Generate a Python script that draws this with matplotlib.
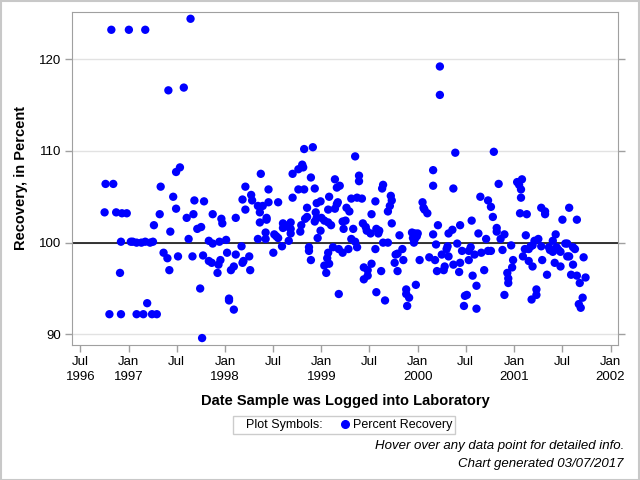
import numpy as np
import matplotlib
matplotlib.use("Agg")
import matplotlib.pyplot as plt
import matplotlib.dates as mdates
from matplotlib.lines import Line2D
from matplotlib.patches import Rectangle
from datetime import datetime

plt.rcParams['font.family'] = ['Liberation Sans', 'DejaVu Sans']

# 試料の記録日 (小数年) と回収率 (%)
log_year = [
    1996.82, 1997.00, 1997.17, 1997.64, 1997.41, 1997.57, 1997.53, 1997.49,
    1996.76, 1996.84, 1996.75, 1996.87, 1996.93, 1996.98, 1996.92, 1997.02,
    1997.04, 1997.08, 1997.13, 1997.17, 1997.22, 1997.25, 1996.91, 1996.80,
    1996.92, 1997.08, 1997.15, 1997.24, 1997.29, 1997.19, 1997.33, 1997.46,
    1997.49, 1997.32, 1997.26, 1997.43, 1997.36, 1997.40, 1997.42, 1997.51,
    1997.62, 1997.60, 1997.67, 1997.68, 1997.78, 1997.71, 1997.75, 1997.66,
    1997.77, 1997.83, 1997.83, 1997.74, 1997.76,
    1998.82, 1998.91, 1998.37, 1998.70, 1998.76, 1998.80, 1998.81, 1998.89,
    1999.14,
    1997.87, 1997.94, 1998.01, 1997.86, 1997.95, 1997.93, 1997.92, 1998.02,
    1998.06, 1998.09, 1998.11, 1998.17, 1998.18, 1998.19, 1998.25, 1998.26,
    1998.04, 1998.04, 1998.09, 1997.87, 1997.96, 1997.97, 1998.11, 1998.18,
    1998.21, 1998.21, 1998.27, 1998.28, 1998.34, 1998.36, 1998.39, 1998.36,
    1998.43, 1998.43, 1998.45, 1998.45, 1998.55, 1998.34, 1998.42, 1998.42,
    1998.50, 1998.51, 1998.53, 1998.55, 1998.59, 1998.66, 1998.60, 1998.60,
    1998.62, 1998.66, 1998.68, 1998.68, 1998.68, 1998.78, 1998.79, 1998.70,
    1998.76, 1998.82, 1998.93, 1998.85, 1998.83, 1998.85, 1998.94, 1998.93,
    1998.95, 1998.99, 1998.95, 1999.00, 1999.03, 1999.07, 1999.10, 1998.99,
    1998.96, 1999.07, 1999.08, 1999.16, 1999.16, 1999.17, 1998.87, 1998.87,
    1998.89, 1999.07, 1999.06, 1999.08, 1999.03, 1999.05, 1999.12, 1999.18,
    1999.18,
    2000.23, 2000.23, 2000.39, 2000.16, 1999.35, 1999.39, 1999.39,
    1999.19, 1999.14, 1999.26, 1999.29, 1999.31, 1999.37, 1999.42, 1999.56,
    1999.63, 1999.64, 1999.72, 1999.73, 1999.71, 1999.69, 1999.52, 1999.22,
    1999.25, 1999.23, 1999.33, 1999.43, 1999.46, 1999.47, 1999.51, 1999.57,
    1999.60, 1999.59, 1999.73, 1999.31, 1999.35, 1999.37, 1999.28, 1999.22,
    1999.56, 1999.64, 1999.69, 1999.81, 1999.84, 1999.79, 1999.77, 1999.76,
    1999.85, 1999.79, 1999.62, 1999.52, 1999.44, 1999.48, 1999.48, 1999.44,
    1999.57, 1999.66, 1999.88, 1999.88, 1999.91, 1999.89, 1999.98, 1999.94,
    1999.97, 2000.00, 1999.95, 1999.97, 1999.99, 1999.96, 2000.02, 2000.05,
    2000.07, 2000.10, 2000.06, 2000.16, 2000.37, 2000.21, 2000.16, 2000.19,
    2000.12, 2000.18, 2000.20, 2000.25, 2000.28, 2000.27, 2000.32, 2000.32,
    2000.36, 2000.31, 2000.30, 2000.41, 2000.37, 2000.44, 2000.43, 2000.44,
    2000.46, 2000.53, 2000.55, 2000.53, 2000.59, 2000.56, 2000.57, 2000.61,
    2000.49, 2000.51, 2000.48, 2000.61, 2000.63, 2000.65,
    2000.79, 2000.84, 2001.03, 2001.08, 2001.05, 2001.07, 2001.07, 2000.73,
    2000.76, 2000.78, 2000.71, 2000.82, 2000.82, 2000.86, 2000.90, 2001.06,
    2001.13, 2001.12, 2001.28, 2001.32, 2001.32, 2001.50, 2001.57, 2001.65,
    2001.43, 2001.25, 2001.21, 2001.19, 2001.40, 2001.53, 2001.55, 2000.66,
    2000.73, 2000.76, 2000.88, 2000.97, 2001.11, 2001.15, 2001.17, 2001.28,
    2001.36, 2001.37, 2001.40, 2001.44, 2001.46, 2001.48, 2001.55, 2001.57,
    2001.61, 2001.63, 2001.72, 2000.99, 2001.09, 2001.15, 2001.19, 2001.29,
    2001.42, 2001.48, 2001.61, 2000.98, 2000.69, 2000.93, 2000.94, 2000.94,
    2001.34, 2001.59, 2001.65, 2001.74, 2001.68, 2000.90, 2001.23, 2001.23,
    2001.18, 2001.71, 2001.67, 2001.69,
]
recovery = [
    123.2, 123.2, 123.2, 124.4, 116.6, 116.9, 108.2, 107.7,
    106.4, 106.4, 103.3, 103.3, 103.2, 103.2, 100.1, 100.1,
    100.1, 100.0, 100.0, 100.1, 100.0, 100.1, 96.7, 92.2,
    92.2, 92.2, 92.2, 92.2, 92.2, 93.4, 106.1, 105.0,
    103.7, 103.1, 101.9, 101.2, 98.9, 98.3, 97.0, 98.5,
    100.4, 102.7, 103.1, 104.6, 104.5, 101.5, 101.7, 98.5,
    98.6, 98.0, 100.2, 95.0, 89.6,
    110.2, 110.4, 107.5, 107.5, 108.0, 108.5, 108.2, 107.1,
    106.9,
    99.9, 100.1, 100.3, 97.8, 98.1, 97.6, 96.7, 98.9,
    97.0, 97.4, 98.7, 99.6, 97.8, 98.0, 98.5, 97.0,
    93.9, 93.7, 92.7, 103.1, 102.6, 102.1, 102.7, 104.7,
    106.1, 103.6, 105.2, 104.6, 104.0, 103.3, 104.0, 102.2,
    102.7, 102.5, 105.8, 104.4, 104.4, 100.4, 101.1, 100.4,
    98.9, 100.9, 100.7, 100.5, 99.6, 100.2, 102.1, 101.6,
    101.9, 101.7, 102.2, 101.5, 101.0, 101.2, 101.9, 104.9,
    105.8, 105.8, 105.9, 103.8, 102.6, 102.8, 103.3, 102.3,
    104.3, 104.5, 102.7, 102.7, 102.4, 102.2, 101.9, 101.3,
    100.5, 103.6, 105.0, 106.0, 104.2, 104.4, 99.5, 99.1,
    98.1, 98.9, 98.3, 97.7, 97.5, 96.7, 99.5, 99.3,
    94.4,
    119.2, 116.1, 109.8, 107.9, 109.4, 107.3, 106.7,
    106.2, 103.7, 103.8, 103.4, 104.8, 104.9, 104.8, 104.5,
    105.9, 106.3, 105.1, 104.6, 104.0, 103.4, 103.1, 102.3,
    102.4, 101.5, 101.5, 102.1, 101.7, 101.3, 101.0, 101.5,
    101.3, 101.0, 102.1, 100.4, 100.1, 99.5, 99.3, 98.9,
    99.3, 100.0, 100.0, 100.8, 99.3, 98.8, 98.7, 97.8,
    98.1, 96.9, 96.9, 97.7, 97.3, 97.0, 96.4, 96.0,
    94.6, 93.7, 94.9, 94.4, 94.0, 93.1, 95.4, 101.1,
    101.0, 101.0, 100.5, 100.4, 100.7, 100.0, 98.1, 104.4,
    103.6, 103.2, 103.8, 106.2, 105.9, 101.9, 100.9, 99.8,
    98.4, 98.1, 96.9, 98.7, 97.4, 97.0, 98.5, 101.0,
    101.4, 99.6, 99.3, 99.9, 97.6, 97.8, 96.8, 101.9,
    99.1, 99.1, 99.5, 98.1, 98.7, 102.4, 96.4, 95.3,
    94.2, 94.3, 93.1, 92.8, 101.0, 105.0,
    109.9, 106.4, 106.6, 106.9, 106.3, 105.8, 104.9, 104.6,
    103.9, 102.8, 100.4, 101.6, 101.2, 100.4, 100.9, 103.2,
    103.1, 100.8, 103.8, 103.4, 103.1, 102.5, 103.8, 102.5,
    100.9, 100.4, 100.2, 99.7, 100.2, 99.9, 99.9, 98.9,
    99.1, 99.1, 99.2, 99.7, 99.3, 99.3, 99.6, 99.6,
    99.5, 99.2, 99.0, 99.5, 99.2, 99.0, 98.5, 98.5,
    99.5, 99.3, 98.4, 98.1, 98.5, 98.0, 97.4, 98.1,
    97.8, 97.4, 97.6, 97.3, 97.0, 96.7, 96.1, 95.6,
    96.5, 96.5, 96.4, 96.2, 95.6, 94.3, 94.9, 94.3,
    93.8, 94.0, 93.3, 92.9,
]

tick_dates = ["1996-07-01", "1997-01-01", "1997-07-01", "1998-01-01",
              "1998-07-01", "1999-01-01", "1999-07-01", "2000-01-01",
              "2000-07-01", "2001-01-01", "2001-07-01", "2002-01-01"]
tick_labels = ["Jul\n1996", "Jan\n1997", "Jul", "Jan\n1998", "Jul", "Jan\n1999",
               "Jul", "Jan\n2000", "Jul", "Jan\n2001", "Jul", "Jan\n2002"]
y_ticks = [90, 100, 110, 120]


def year_to_num(y):
    yr = int(y)
    return mdates.date2num(datetime(yr, 1, 1)) + (y - yr) * 365.25


x = np.array([year_to_num(v) for v in log_year])
tx = [mdates.date2num(datetime.strptime(d, "%Y-%m-%d")) for d in tick_dates]

fig = plt.figure(figsize=(6.4, 4.8), dpi=100)
ax = fig.add_axes([0.113, 0.281, 0.853, 0.695])

gray = '#a0a0a0'
for v in y_ticks:
    ax.axhline(v, color='#e2e2e2', lw=1, zorder=0)
ax.axhline(100, color='black', lw=1.1, zorder=1)
ax.scatter(x, recovery, s=36, color='#0000ff', edgecolors='none', zorder=3)

ax.set_xlim(year_to_num(1996.415), year_to_num(2002.08))
ax.set_ylim(88.83, 125.19)
ax.set_xticks(tx)
ax.set_xticklabels(tick_labels, fontsize=9.5, linespacing=1.35)
ax.set_yticks(y_ticks)
ax.set_yticklabels([str(v) for v in y_ticks], fontsize=9.5)
ax.tick_params(axis='both', direction='out', color=gray, length=5, width=1, pad=3)
ax.tick_params(axis='y', right=True)
for s in ax.spines.values():
    s.set_color(gray)

ax.set_ylabel("Recovery, in Percent", fontsize=10.5, fontweight='bold', labelpad=8)
ax.set_xlabel("Date Sample was Logged into Laboratory", fontsize=10.5,
              fontweight='bold', labelpad=8)

handles = [Line2D([], [], linestyle='none'),
           Line2D([], [], linestyle='none', marker='o', color='#0000ff', markersize=5.5)]
leg = fig.legend(handles, ["Plot Symbols:", "Percent Recovery"], ncol=2,
                 loc='center', bbox_to_anchor=(344 / 640, 1 - 425 / 480),
                 fontsize=9, frameon=True, fancybox=False, handlelength=0.4,
                 handletextpad=0.4, columnspacing=1.6, borderpad=0.25)
leg.get_frame().set_edgecolor('#c0c0c0')
leg.get_frame().set_linewidth(1)

fig.text(624 / 640, 1 - 446 / 480, "Hover over any data point for detailed info.",
         ha='right', va='center', fontsize=9.5, style='italic')
fig.text(624 / 640, 1 - 464 / 480, "Chart generated 03/07/2017",
         ha='right', va='center', fontsize=9.5, style='italic')

fig.patches.append(Rectangle((0.001, 0.001), 0.997, 0.997, transform=fig.transFigure,
                             fill=False, edgecolor='#c8c8c8', lw=1.5))

fig.savefig("out.png", dpi=100)
